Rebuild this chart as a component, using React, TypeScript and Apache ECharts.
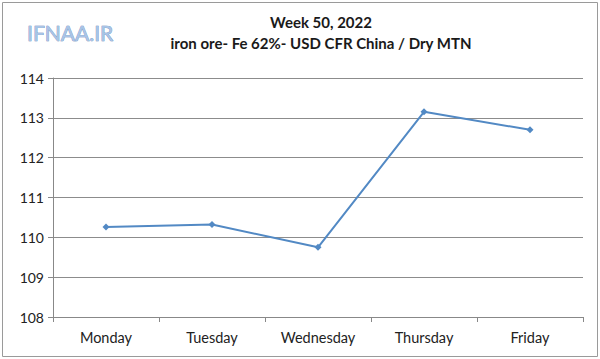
import React, { useEffect, useRef } from "react";
import * as echarts from "echarts";

const categories = ["Monday", "Tuesday", "Wednesday", "Thursday", "Friday"];
const prices = [110.26, 110.32, 109.75, 113.15, 112.7];
const titleText = "Week 50, 2022";
const subtitleText = "iron ore- Fe 62%- USD CFR China / Dry MTN";
const logoText = "IFNAA.IR";

export default function App() {
  const ref = useRef<HTMLDivElement>(null);
  useEffect(() => {
    if (!ref.current) return;
    const chart = echarts.init(ref.current, null, { renderer: "svg" });
    const font = "Lato, 'Open Sans', sans-serif";
    chart.setOption({
      animation: false,
      backgroundColor: "#ffffff",
      title: {
        text: titleText,
        subtext: subtitleText,
        left: 316,
        top: 9,
        textAlign: "center",
        itemGap: 6,
        textStyle: { fontFamily: font, fontSize: 15, fontWeight: "bold", color: "#1a1a1a" },
        subtextStyle: { fontFamily: font, fontSize: 15, fontWeight: "bold", color: "#1a1a1a" },
      },
      graphic: [
        {
          type: "rect",
          shape: { x: 2.5, y: 2.5, width: 595, height: 354 },
          style: { fill: "none", stroke: "#9a9a9a", lineWidth: 1 },
          silent: true,
        },
        {
          type: "text",
          x: 27,
          y: 22,
          style: {
            text: logoText,
            fontFamily: font,
            fontSize: 21,
            fontWeight: "normal",
            fill: "#a8c4e6",
            stroke: "#4f76b0",
            lineWidth: 0.6,
          },
          silent: true,
        },
      ],
      grid: { left: 53, right: 17, top: 78, bottom: 42 },
      xAxis: {
        type: "category",
        data: categories,
        boundaryGap: true,
        axisLine: { lineStyle: { color: "#888888" } },
        axisTick: { show: true, alignWithLabel: false, length: 5, lineStyle: { color: "#888888" } },
        axisLabel: { fontFamily: font, fontSize: 14.5, color: "#222", margin: 13 },
      },
      yAxis: {
        type: "value",
        min: 108,
        max: 114,
        interval: 1,
        axisLine: { show: true, lineStyle: { color: "#888888" } },
        axisTick: { show: true, length: 5, lineStyle: { color: "#888888" } },
        axisLabel: { fontFamily: font, fontSize: 14, color: "#222", margin: 9 },
        splitLine: { lineStyle: { color: "#8c8c8c", width: 1 } },
      },
      series: [
        {
          type: "line",
          data: prices,
          symbol: "diamond",
          symbolSize: 7,
          lineStyle: { color: "#5289c4", width: 2 },
          itemStyle: { color: "#5289c4" },
        },
      ],
    });
    return () => chart.dispose();
  }, []);
  return (
    <div
      ref={ref}
      style={{ position: "fixed", left: 0, top: 0, width: 600, height: 359 }}
    />
  );
}
